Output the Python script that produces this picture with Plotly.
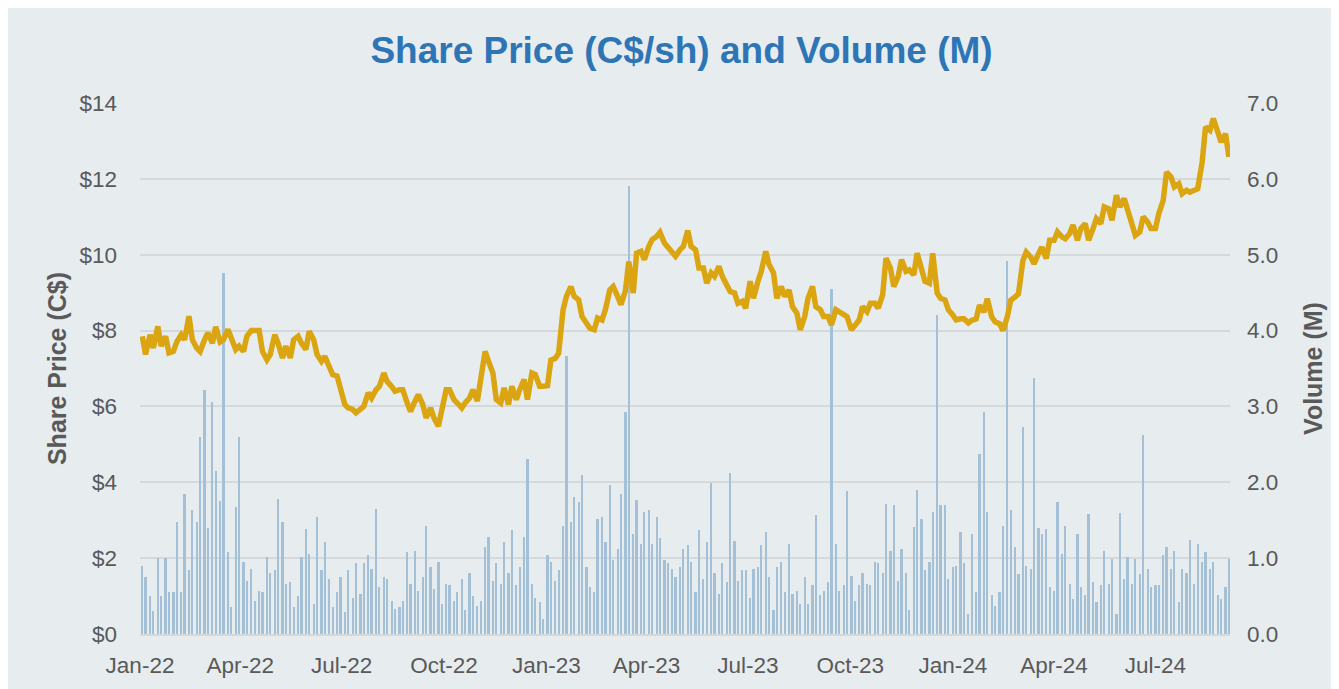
import plotly.graph_objects as go
import pandas as pd

# trading dates sampled twice a week (Mon / Thu), Jan-22 to early Sep-24
dates = pd.date_range("2022-01-03", "2024-09-02", freq="W-MON").union(
    pd.date_range("2022-01-06", "2024-09-05", freq="W-THU"))

# share price (C$/sh)
price = [
    7.85, 7.37, 7.89, 7.54, 8.11, 7.59, 7.85, 7.41, 7.45, 7.70,
    7.89, 7.76, 8.38, 7.76, 7.54, 7.45, 7.76, 7.94, 7.67, 8.10,
    7.70, 7.76, 8.03, 7.76, 7.50, 7.59, 7.45, 7.85, 8.00, 8.00,
    8.00, 7.45, 7.23, 7.37, 7.89, 7.67, 7.28, 7.59, 7.28, 7.76,
    7.85, 7.67, 7.50, 7.98, 7.76, 7.37, 7.19, 7.32, 7.06, 6.84,
    6.80, 6.49, 6.05, 5.96, 5.92, 5.83, 5.92, 6.00, 6.36, 6.22,
    6.44, 6.53, 6.88, 6.66, 6.53, 6.40, 6.44, 6.44, 6.09, 5.87,
    6.14, 6.31, 6.05, 5.70, 5.96, 5.70, 5.48, 5.96, 6.44, 6.44,
    6.18, 6.09, 5.96, 6.09, 6.22, 6.44, 6.14, 6.71, 7.45, 7.19,
    6.88, 6.18, 6.09, 6.49, 6.05, 6.53, 6.18, 6.44, 6.71, 6.18,
    6.88, 6.84, 6.53, 6.53, 6.55, 7.22, 7.27, 7.40, 8.55, 8.90,
    9.16, 8.90, 8.81, 8.37, 8.19, 8.06, 8.02, 8.33, 8.28, 8.55,
    9.07, 9.16, 8.90, 8.68, 9.05, 9.82, 8.99, 10.04, 10.09, 9.87,
    10.22, 10.40, 10.48, 10.59, 10.31, 10.22, 10.09, 9.96, 10.13, 10.22,
    10.64, 10.22, 10.13, 9.65, 9.65, 9.25, 9.52, 9.43, 9.69, 9.43,
    9.20, 9.03, 8.99, 8.72, 8.77, 8.59, 9.30, 8.85, 9.30, 9.56,
    10.09, 9.74, 9.52, 8.85, 9.16, 8.90, 9.07, 8.63, 8.46, 8.02,
    8.37, 8.85, 9.16, 8.63, 8.55, 8.37, 8.37, 8.15, 8.55, 8.50,
    8.41, 8.37, 8.02, 8.15, 8.28, 8.63, 8.50, 8.72, 8.72, 8.59,
    8.94, 9.91, 9.65, 9.16, 9.43, 9.87, 9.56, 9.60, 9.47, 10.04,
    9.65, 9.30, 9.25, 10.04, 8.99, 8.85, 8.81, 8.55, 8.41, 8.28,
    8.31, 8.31, 8.20, 8.27, 8.31, 8.67, 8.49, 8.84, 8.36, 8.23,
    8.18, 8.00, 8.36, 8.80, 8.89, 8.97, 9.85, 10.07, 9.94, 9.76,
    10.03, 10.20, 9.90, 10.38, 10.38, 10.60, 10.47, 10.42, 10.56, 10.78,
    10.38, 10.69, 10.82, 10.38, 10.69, 10.95, 10.82, 11.26, 11.21, 10.91,
    11.57, 11.26, 11.48, 11.17, 10.82, 10.51, 10.60, 11.00, 10.86, 10.69,
    10.69, 11.08, 11.43, 12.18, 12.05, 11.79, 11.87, 11.61, 11.70, 11.65,
    11.70, 11.74, 12.44, 13.37, 13.28, 13.59, 13.24, 12.97, 13.19, 12.58,
]

# volume (M shares)
volume = [
    0.90, 0.75, 0.50, 0.30, 1.00, 0.50, 1.00, 0.55, 0.55, 1.48,
    0.55, 1.85, 0.85, 1.63, 1.48, 2.60, 3.22, 1.40, 3.06, 2.15,
    1.75, 4.76, 1.08, 0.35, 1.67, 2.60, 0.95, 0.70, 0.86, 0.44,
    0.57, 0.55, 1.01, 0.81, 0.84, 1.78, 1.48, 0.66, 0.68, 0.35,
    0.50, 1.01, 1.39, 1.06, 0.40, 1.54, 0.84, 1.21, 0.73, 0.35,
    0.55, 0.75, 0.29, 0.84, 0.48, 0.93, 0.53, 0.93, 1.04, 0.86,
    1.65, 0.62, 0.75, 0.73, 0.44, 0.33, 0.35, 0.44, 1.08,
    0.66, 1.10, 0.57, 0.75, 1.43, 0.88, 0.59, 0.95, 0.40, 0.66,
    0.64, 0.44, 0.55, 0.73, 0.31, 0.81, 0.50, 0.37, 0.44, 1.15,
    1.28, 0.70, 0.93, 0.66, 1.21, 0.81, 1.37, 0.64, 0.88, 1.28,
    2.31, 0.66, 0.48, 0.42, 0.20, 1.04, 0.95, 0.70, 0.84, 1.43,
    3.67, 1.48, 1.80, 1.74, 2.09, 0.88, 0.62, 0.55, 1.52, 1.54,
    1.21, 1.96, 0.97, 1.12, 1.85, 2.93, 5.91, 1.32, 1.76, 1.19,
    1.61, 1.63, 1.19, 1.54, 1.26, 0.97, 0.93, 0.86, 0.75, 0.88,
    1.12, 1.17, 0.95, 0.55, 1.37, 0.73, 1.21, 1.99, 0.80, 0.53,
    0.93, 0.68, 2.12, 1.23, 0.70, 0.84, 0.84, 0.48, 0.86, 0.88,
    1.17, 1.34, 0.75, 0.31, 0.88, 0.95, 0.55, 1.19, 0.53, 0.57,
    0.40, 0.75, 0.40, 0.64, 1.57, 0.51, 0.57, 0.68, 4.55, 1.19,
    0.57, 0.64, 1.89, 0.77, 0.44, 0.64, 0.81, 0.66, 0.64, 0.95,
    0.93, 0.81, 1.72, 1.10, 1.70, 0.70, 1.12, 0.81, 0.31, 1.41,
    1.90, 1.52, 0.84, 0.95, 1.61, 4.20, 1.70, 1.70, 0.73, 0.88,
    0.90,
    1.34, 0.93, 0.26, 1.32, 0.55, 2.37, 2.93, 1.61, 0.51, 0.37,
    0.55, 1.43, 4.92, 1.63, 1.15, 0.79, 2.73, 0.90, 0.86, 3.38,
    1.40, 1.32, 1.39, 0.62, 0.57, 1.74, 1.06, 1.43, 0.66, 0.46,
    1.32, 0.62, 0.51, 1.58, 0.68, 0.42, 0.64, 1.10, 0.66, 0.99,
    0.26, 1.59, 0.73, 1.01, 0.66, 0.99, 0.79, 2.62, 0.86, 0.62,
    0.64, 0.64, 1.04, 1.15, 0.86, 1.10, 0.42, 0.86, 0.81, 1.24,
    0.66, 1.19, 0.95, 1.08, 0.86, 0.95, 0.51, 0.46, 0.62, 0.99,
]

BG = "#E7ECEF"
GRID = "#D6D9DB"
TXT = "#595959"
FONT = "Liberation Sans, Arial, sans-serif"

fig = go.Figure()
# volume on the base axis so the price line is drawn over the bars
fig.add_trace(go.Bar(x=dates, y=volume, yaxis="y",
                     marker=dict(color="#A4C0D6", line_width=0),
                     width=2.0 * 86400000, name="Volume"))
fig.add_trace(go.Scatter(x=dates, y=price, yaxis="y2", mode="lines",
                         line=dict(color="#DAA511", width=5.5), name="Price"))

fig.update_layout(
    width=1339, height=689,
    paper_bgcolor=BG, plot_bgcolor=BG,
    margin=dict(l=132, r=117, t=95, b=63),
    showlegend=False,
    font=dict(family=FONT, color=TXT, size=22.5),
    title=dict(text="<b>Share Price (C$/sh) and Volume (M)</b>",
               x=0.503, xanchor="center", y=0.939, yanchor="middle",
               font=dict(size=37, color="#2E75B6", family=FONT)),
    bargap=0,
    xaxis=dict(type="date", range=["2022-01-01", "2024-09-06"],
               tick0="2022-01-01", dtick="M3", tickformat="%b-%y",
               showgrid=False, zeroline=False, ticks="",
               showline=True, linecolor=GRID, linewidth=1.5,
               ticklabelstandoff=10, tickfont=dict(size=22.5, color=TXT)),
    yaxis=dict(side="right", range=[0, 7], dtick=1, tickformat=".1f",
               showgrid=True, gridcolor=GRID, gridwidth=1.5, zeroline=False,
               ticklabelstandoff=16, tickfont=dict(size=22.5, color=TXT),
               title=dict(text="<b>Volume (M)</b>", standoff=27,
                          font=dict(size=25, color=TXT))),
    yaxis2=dict(side="left", overlaying="y", range=[0, 14], dtick=2,
                tickprefix="$", showgrid=False, zeroline=False,
                ticklabelstandoff=22, tickfont=dict(size=22.5, color=TXT),
                title=dict(text="<b>Share Price (C$)</b>", standoff=5,
                           font=dict(size=25, color=TXT))),
)

fig.write_html("out.html")
